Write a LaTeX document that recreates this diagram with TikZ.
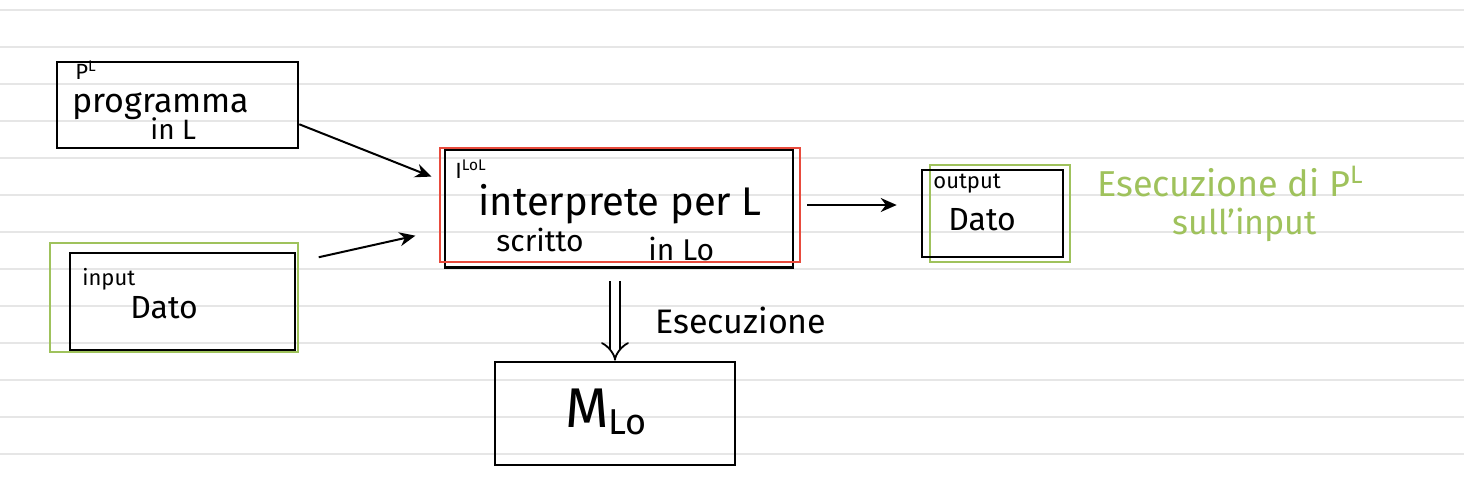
\documentclass[tikz,border=0pt]{standalone}
\usepackage{fontspec}
\setmainfont{Fira Sans}
\usetikzlibrary{arrows.meta,calc}
\definecolor{rulegray}{HTML}{E6E6E6}
\definecolor{hgreen}{HTML}{9FC25C}
\definecolor{hred}{HTML}{E84A3C}
\newcommand{\fs}[1]{\fontsize{#1}{#1}\selectfont}
\tikzset{
  box/.style={draw=black, line width=1.3pt, inner sep=0pt},
  gbox/.style={draw=hgreen, line width=1.2pt, inner sep=0pt},
  rbox/.style={draw=hred, line width=1.2pt, inner sep=0pt},
  txt/.style={anchor=base west, inner sep=0pt, text=black},
  gtxt/.style={anchor=base west, inner sep=0pt, text=hgreen},
  arr/.style={-{Stealth[length=8pt,width=7pt]}, line width=1pt, black},
}
\begin{document}
\begin{tikzpicture}[x=0.5pt,y=-0.5pt]
\useasboundingbox (0,0) rectangle (1464,488);
\fill[white] (0,0) rectangle (1464,488);
\foreach \yy in {10,47,84,121,158,195,232,269,306,343,380,417,454}
  \draw[rulegray, line width=0.6pt] (0,\yy) -- (1464,\yy);

% PL box
\node[box, minimum width=120.5pt, minimum height=43pt] (pl) at (177.5,105) {};
\node[txt] (plp) at (75,79) {\fs{11}P\textsuperscript{L}};
\node[txt] (plt) at (72,112) {\fs{17}programma};
\node[txt] (pll) at (150,139) {\fs{14}in L};

% input box
\node[gbox, minimum width=124pt, minimum height=54.5pt] (ing) at (174,297.5) {};
\node[box, minimum width=112.5pt, minimum height=48.5pt] (inb) at (182.5,301.5) {};
\node[txt] (inl) at (82,285) {\fs{11}input};
\node[txt] (ind) at (130,318) {\fs{16}Dato};

% interpreter box
\node[box, minimum width=174pt, minimum height=59pt] (itb) at (619,208.5) {};
\node[rbox, minimum width=180pt, minimum height=57pt] (itr) at (620,205) {};
\node[txt] (iti) at (455,178) {\fs{11}I\textsuperscript{LoL}};
\node[txt] (itt) at (478,215) {\fs{20}interprete per L};
\node[txt] (its) at (496,251) {\fs{15}scritto};
\node[txt] (itl) at (648,260) {\fs{15}in Lo};

% output box
\node[gbox, minimum width=70pt, minimum height=48.5pt] (outg) at (1000,213.5) {};
\node[box, minimum width=70.5pt, minimum height=43.5pt] (outb) at (992.5,213.5) {};
\node[txt] (outl) at (933,188) {\fs{11}output};
\node[txt] (outd) at (948,230) {\fs{16}Dato};

% green comment
\node[gtxt] (g1) at (1097,196) {\fs{18}Esecuzione di P\textsuperscript{L}};
\node[gtxt] (g2) at (1172,234) {\fs{17}sull'input};

% machine box
\node[box, minimum width=120pt, minimum height=51.5pt] (mb) at (615,413.5) {};
\node[txt] (mt) at (565,427) {\fs{28}M\textsubscript{\fs{18}Lo}};

% execution label
\node[txt] (ex) at (655,333) {\fs{17}Esecuzione};

% connectors
\draw[arr, shorten >=4pt] (pl.-9) -- (itr.172);
\draw[arr, shorten <=10pt, shorten >=12pt] (ing.16) -- (itr.188);
\draw[arr, shorten <=3pt, shorten >=12pt] (itr.east) -- (itr.east -| outb.west);
\draw[double, double distance=4pt, line width=0.9pt, -{Implies}, shorten <=6pt] ($(itb.south)+(-4,0)$) coordinate (ds) -- (ds |- mb.north);
\end{tikzpicture}
\end{document}
